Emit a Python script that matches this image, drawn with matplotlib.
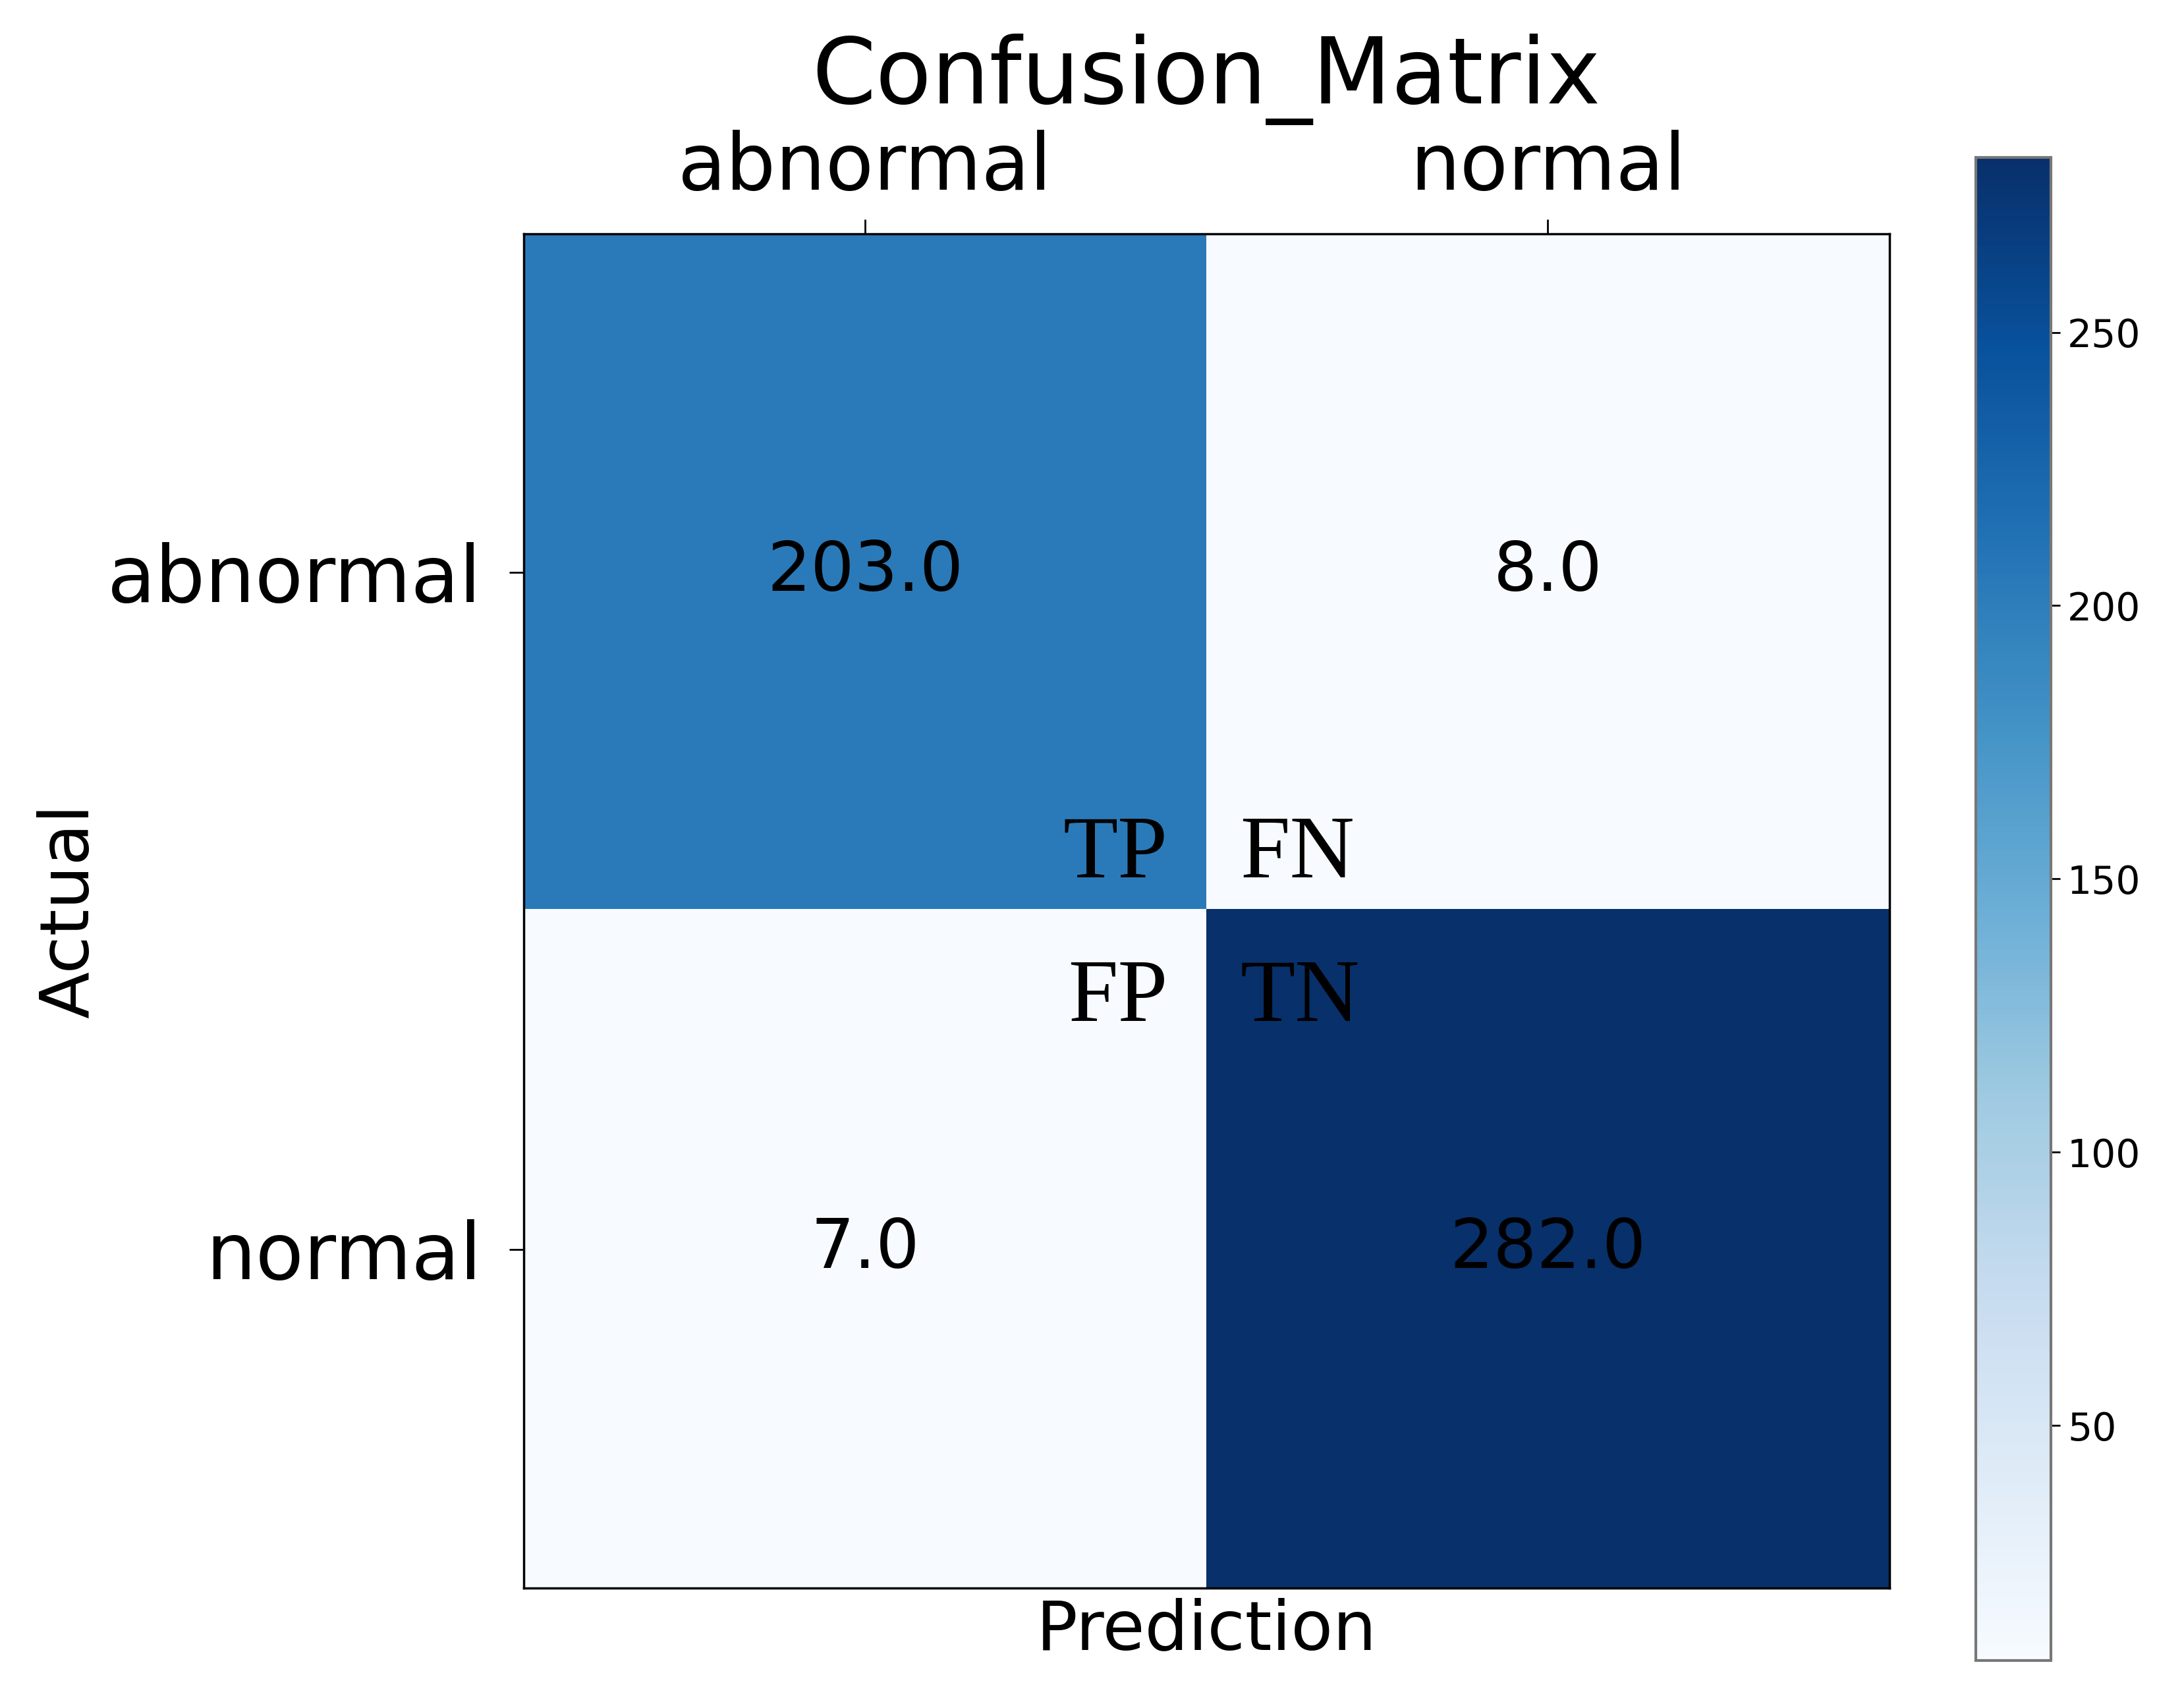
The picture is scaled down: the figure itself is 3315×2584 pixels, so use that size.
import numpy as np
import matplotlib.pyplot as plt

classes = ['abnormal', 'normal']
cm = np.array([[203.0, 8.0],
               [7.0, 282.0]])
quad_labels = [['TP', 'FN'], ['FP', 'TN']]

fig = plt.figure(figsize=(33.16, 25.84), dpi=100)
ax = fig.add_axes([0.2397, 0.0670, 0.6251, 0.7957])
cax = fig.add_axes([0.9044, 0.0244, 0.0344, 0.8831])

im = ax.imshow(cm, cmap='Blues', interpolation='nearest', aspect='auto')
cb = fig.colorbar(im, cax=cax)
cb.set_ticks([50, 100, 150, 200, 250])
cb.ax.tick_params(labelsize=42, length=10, width=2, pad=8)
cb.outline.set_linewidth(3)
cb.outline.set_edgecolor('#777777')

# cell values
for i in range(2):
    for j in range(2):
        ax.text(j, i, f'{cm[i, j]:.1f}', ha='center', va='center', fontsize=75, color='black')

# quadrant tags near the centre
tag_x = [0.443, 0.549]
tag_y = [0.451, 0.663]
for i in range(2):
    for j in range(2):
        ax.text(tag_x[j], tag_y[i], quad_labels[i][j], family='Liberation Serif', fontsize=98,
                ha='right' if j == 0 else 'left', va='baseline', color='black')

ax.set_xticks([0, 1])
ax.set_yticks([0, 1])
ax.set_xticklabels(classes)
ax.set_yticklabels(classes)
ax.xaxis.tick_top()
ax.tick_params(axis='both', labelsize=86, length=16, width=2)
ax.tick_params(axis='x', pad=14)
ax.tick_params(axis='y', pad=30)
for s in ax.spines.values():
    s.set_linewidth(2.5)

ax.set_xlabel('Prediction', fontsize=75, labelpad=10)
ax.xaxis.set_label_position('bottom')
ax.set_ylabel('Actual', fontsize=75, labelpad=5)
ax.set_title('Confusion_Matrix', fontsize=100, y=1.096, pad=0)

fig.savefig('out.png', dpi=100)
